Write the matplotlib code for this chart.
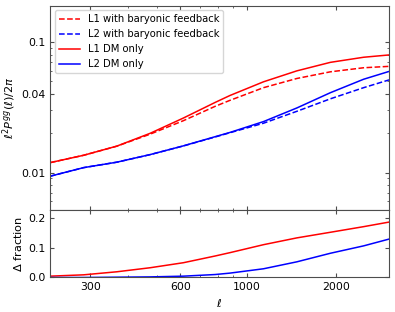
import matplotlib
matplotlib.use("Agg")
import matplotlib.pyplot as plt
from matplotlib.ticker import FixedLocator, NullFormatter, LogLocator

ell = [220, 285, 368, 476, 615, 785, 880, 1140, 1474, 1909, 2466, 3000]
l1_dm = [0.0119, 0.01356, 0.01594, 0.0200, 0.0262, 0.0345, 0.0390, 0.0497, 0.0603, 0.0701, 0.0767, 0.0799]
l1_bary = [0.0119, 0.01356, 0.01592, 0.0197, 0.0250, 0.0322, 0.0358, 0.0448, 0.0527, 0.0593, 0.0637, 0.0653]
l2_dm = [0.00936, 0.0109, 0.0120, 0.01373, 0.01602, 0.01883, 0.0203, 0.0246, 0.0313, 0.0410, 0.0520, 0.0597]
l2_bary = [0.00936, 0.0109, 0.0120, 0.01372, 0.0160, 0.01873, 0.0202, 0.0239, 0.0295, 0.0368, 0.0448, 0.0514]
frac_l1 = [0.0045, 0.009, 0.0193, 0.033, 0.050, 0.0727, 0.084, 0.111, 0.134, 0.153, 0.172, 0.1875]
frac_l2 = [0.0, 0.0, 0.001, 0.002, 0.0045, 0.010, 0.0148, 0.0295, 0.053, 0.082, 0.107, 0.130]

xticks = [300, 600, 1000, 2000]
yticks_top = [0.01, 0.04, 0.1]
yticks_bot = [0.0, 0.1, 0.2]
ytick_bot_labels = ['0.0', '0.1', '0.2']

fs = 7.8
fig = plt.figure(figsize=(3.95, 3.12), dpi=100)
ax1 = fig.add_axes([0.1266, 0.3285, 0.8584, 0.6525])
ax2 = fig.add_axes([0.1266, 0.1106, 0.8584, 0.2179], sharex=ax1)

lw = 1.1
ax1.plot(ell, l1_bary, '--', color='red', lw=lw, label='L1 with baryonic feedback')
ax1.plot(ell, l2_bary, '--', color='blue', lw=lw, label='L2 with baryonic feedback')
ax1.plot(ell, l1_dm, '-', color='red', lw=lw, label='L1 DM only')
ax1.plot(ell, l2_dm, '-', color='blue', lw=lw, label='L2 DM only')

ax2.plot(ell, frac_l1, '-', color='red', lw=lw)
ax2.plot(ell, frac_l2, '-', color='blue', lw=lw)

ax1.set_xscale('log')
ax1.set_yscale('log')
ax1.set_xlim(220, 3000)
ax1.set_ylim(0.0052, 0.19)
ax2.set_ylim(0, 0.23)

ax1.yaxis.set_major_locator(FixedLocator(yticks_top))
ax1.set_yticklabels([str(v) for v in yticks_top])
ax1.yaxis.set_minor_locator(LogLocator(base=10, subs=range(2, 10)))
ax1.yaxis.set_minor_formatter(NullFormatter())

ax2.xaxis.set_major_locator(FixedLocator(xticks))
ax2.set_xticklabels([str(v) for v in xticks])
ax2.xaxis.set_minor_locator(LogLocator(base=10, subs=range(2, 10)))
ax2.xaxis.set_minor_formatter(NullFormatter())
ax2.set_yticks(yticks_bot)
ax2.set_yticklabels(ytick_bot_labels)
plt.setp(ax1.get_xticklabels(), visible=False)

for ax in (ax1, ax2):
    ax.tick_params(which='both', direction='in', top=True, right=True,
                   labelsize=fs, color='0.3', pad=3)
    ax.tick_params(which='major', length=3)
    ax.tick_params(which='minor', length=1.6)
    for s in ax.spines.values():
        s.set_color('0.3')

ax1.set_ylabel(r'$\ell^2 P^{gg}(\ell)/2\pi$', fontsize=fs + 0.4)
ax1.yaxis.set_label_coords(-0.094, 0.5)
ax2.set_ylabel(r'$\Delta$ fraction', fontsize=fs + 0.4)
ax2.yaxis.set_label_coords(-0.077, 0.5)
ax2.set_xlabel(r'$\ell$', fontsize=fs + 0.4)
ax1.legend(loc='upper left', fontsize=7.2, labelspacing=0.5, borderpad=0.4,
           borderaxespad=0.45, handlelength=2.1, handletextpad=0.8)

fig.savefig('out.png', dpi=100)
